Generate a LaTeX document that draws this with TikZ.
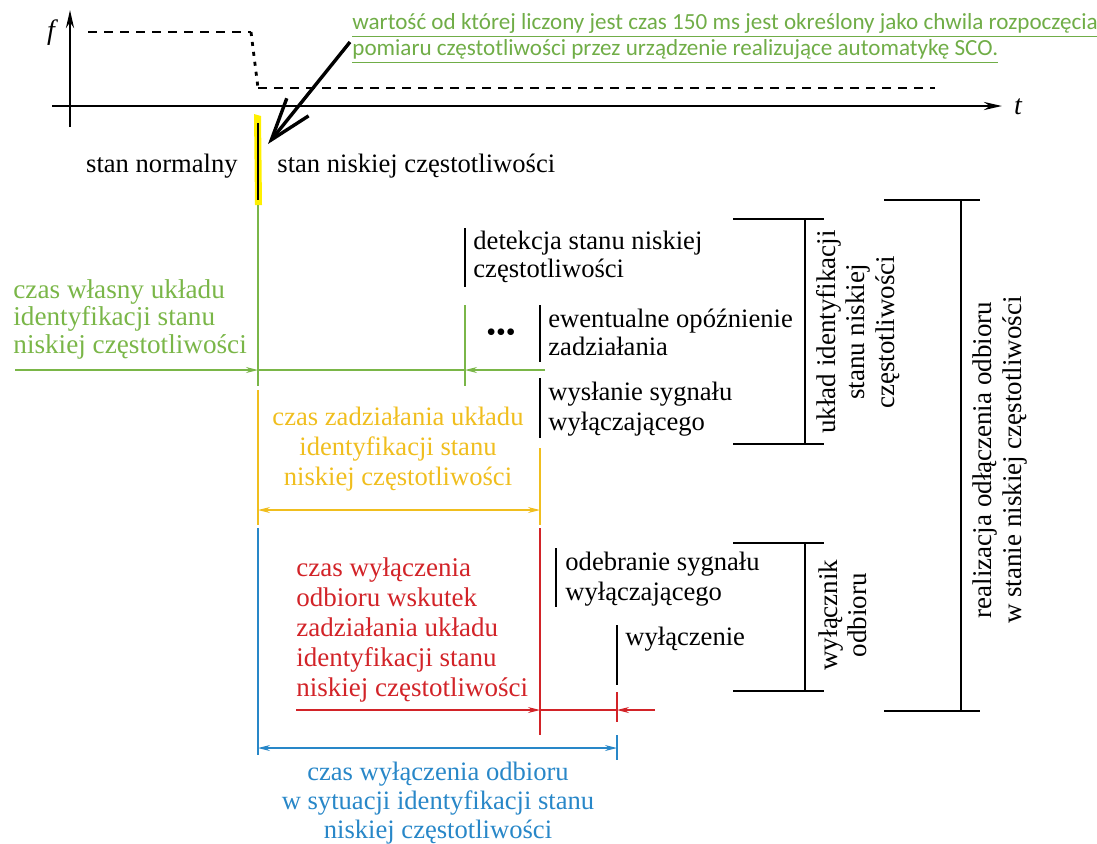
\documentclass[tikz,border=0pt]{standalone}
\usepackage{fontspec}
\setmainfont{Liberation Serif}
\newfontfamily\calibri{Carlito}
\usetikzlibrary{arrows.meta}
\definecolor{topgreen}{RGB}{112,173,71}
\definecolor{mygreen}{RGB}{122,182,72}
\definecolor{myyellow}{RGB}{240,190,30}
\definecolor{myred}{RGB}{210,35,40}
\definecolor{myblue}{RGB}{40,135,200}
\definecolor{hilite}{RGB}{255,240,0}
\tikzset{
  tx/.style={font=\fontsize{13.3}{14}\selectfont, inner sep=0pt, align=left, anchor=north west},
  ctx/.style={font=\fontsize{13.3}{15}\selectfont, inner sep=0pt, align=center, anchor=north},
  ltx/.style={font=\fontsize{13.3}{15}\selectfont, inner sep=0pt, align=left, anchor=north west},
  rtx/.style={font=\fontsize{13.5}{14.6}\selectfont, inner sep=0pt, align=center, rotate=90},
  bar/.style={line width=1.4pt},
  brk/.style={line width=0.7pt},
  dim/.style={line width=0.6pt},
  tip/.style={-{Stealth[length=6pt,width=3pt]}},
  dtip/.style={{Stealth[length=6pt,width=3pt]}-{Stealth[length=6pt,width=3pt]}},
}
\begin{document}
\begin{tikzpicture}[x=0.5pt,y=-0.5pt]
\path[use as bounding box] (0,0) rectangle (1097,843);
% axes
\coordinate (fb) at (70,127); \coordinate (ft) at (70,10);
\coordinate (tl) at (52,106); \coordinate (tr) at (1002,106);
\draw[line width=1.4pt,-{Stealth[length=9pt,width=4pt]}] (fb) -- (ft);
\draw[line width=1.4pt,-{Stealth[length=9pt,width=4pt]}] (tl) -- (tr);
\node[font=\itshape\fontsize{14}{15}\selectfont, inner sep=0pt] (flab) at (51,33) {f};
\node[font=\itshape\fontsize{14}{15}\selectfont, inner sep=0pt] (tlab) at (1018,107) {t};
% frequency curve
\coordinate (c1) at (88,32); \coordinate (c2) at (251,32);
\coordinate (c3) at (258,88); \coordinate (c4) at (935,88);
\draw[line width=1.4pt, dash pattern=on 4.5pt off 3.5pt] (c1) -- (c2);
\draw[line width=1.4pt, dash pattern=on 2pt off 3pt] (c2) -- (c3);
\draw[line width=1.4pt, dash pattern=on 4.5pt off 3.5pt] (c3) -- (c4);
% highlight marker
\fill[hilite] (254,114) -- (261,116) -- (262,205) -- (255,205) -- cycle;
\coordinate (m1) at (258,123); \coordinate (m2) at (258,200);
\draw[line width=0.8pt] (m1) -- (m2);
% green note
\node[font=\calibri\fontsize{11.55}{13}\selectfont, text=topgreen, inner sep=0pt, align=left, anchor=north west] (note) at (352,13)
 {\underline{wartość od której liczony jest czas 150 ms jest określony jako chwila rozpoczęcia}\\
  \underline{pomiaru częstotliwości przez urządzenie realizujące automatykę SCO.}};
\coordinate (ptr) at (268,144);
\draw[line width=1.7pt, -{Straight Barb[length=21pt,width=14pt]}] (350,42) -- (ptr);
% states
\node[tx, anchor=base east] (normal) at (238,172) {stan normalny};
\node[tx, anchor=base west] (niska) at (277,172) {stan niskiej częstotliwości};
% green dimension
\coordinate (g0t) at (258,205); \coordinate (g0b) at (258,386);
\coordinate (g1t) at (465,305); \coordinate (g1b) at (465,386);
\coordinate (gl) at (15,370); \coordinate (gm) at (258,370);
\coordinate (gr) at (465,370); \coordinate (ge) at (545,370);
\draw[mygreen, dim] (g0t) -- (g0b);
\draw[mygreen, dim] (g1t) -- (g1b);
\draw[mygreen, dim, tip] (gl) -- (gm);
\draw[mygreen, dim] (gm) -- (gr);
\draw[mygreen, dim, tip] (ge) -- (gr);
\node[ltx, font=\fontsize{13.6}{13.8}\selectfont, text=mygreen] (gtext) at (13,279) {czas własny układu\\identyfikacji stanu\\niskiej częstotliwości};
% black step labels
\draw[bar] (465,228) -- (465,287);
\node[tx] (det) at (473,231) {detekcja stanu niskiej\\częstotliwości};
\node[inner sep=0pt, font=\fontsize{14}{15}\selectfont] (dots) at (501,335) {•••};
\draw[bar] (540,305) -- (540,362);
\node[tx] (ewe) at (548,309) {ewentualne opóźnienie\\zadziałania};
\draw[bar] (540,378) -- (540,438);
\node[tx, font=\fontsize{13.3}{15}\selectfont] (wys) at (548,382) {wysłanie sygnału\\wyłączającego};
% yellow dimension
\coordinate (y0t) at (258,390); \coordinate (y0b) at (258,525);
\coordinate (y1t) at (540,448); \coordinate (y1b) at (540,525);
\coordinate (yl) at (258,510); \coordinate (yr) at (540,510);
\draw[myyellow, dim] (y0t) -- (y0b);
\draw[myyellow, dim] (y1t) -- (y1b);
\draw[myyellow, dim, dtip] (yl) -- (yr);
\node[ctx, text=myyellow] (ytext) at (398,407) {czas zadziałania układu\\identyfikacji stanu\\niskiej częstotliwości};
% red dimension
\coordinate (r0t) at (540,528); \coordinate (r0b) at (540,735);
\coordinate (r1t) at (617,692); \coordinate (r1b) at (617,722);
\coordinate (rl) at (296,710); \coordinate (rm) at (540,710);
\coordinate (rr) at (617,710); \coordinate (re) at (655,710);
\draw[myred, dim] (r0t) -- (r0b);
\draw[myred, dim] (r1t) -- (r1b);
\draw[myred, dim, tip] (rl) -- (rm);
\draw[myred, dim] (rm) -- (rr);
\draw[myred, dim, tip] (re) -- (rr);
\node[ltx, font=\fontsize{13.5}{15}\selectfont, text=myred] (rtext) at (296,557) {czas wyłączenia\\odbioru wskutek\\zadziałania układu\\identyfikacji stanu\\niskiej częstotliwości};
% receiver labels
\draw[bar] (556,548) -- (556,607);
\node[tx, font=\fontsize{13.3}{15}\selectfont] (ode) at (565,552) {odebranie sygnału\\wyłączającego};
\draw[bar] (617,625) -- (617,685);
\node[tx, anchor=base west] (wyl) at (625,645) {wyłączenie};
% blue dimension
\coordinate (b0t) at (258,528); \coordinate (b0b) at (258,755);
\coordinate (b1t) at (617,735); \coordinate (b1b) at (617,760);
\coordinate (bl) at (258,748); \coordinate (br) at (617,748);
\draw[myblue, dim] (b0t) -- (b0b);
\draw[myblue, dim] (b1t) -- (b1b);
\draw[myblue, dim, dtip] (bl) -- (br);
\node[ctx, font=\fontsize{13.3}{14.5}\selectfont, text=myblue] (btext) at (438,762) {czas wyłączenia odbioru\\w sytuacji identyfikacji stanu\\niskiej częstotliwości};
% brackets
\draw[brk] (733,219) -- (824,219) (805,219) -- (805,444) (733,444) -- (824,444);
\node[rtx] (b1lab) at (858,332) {układ identyfikacji\\stanu niskiej\\częstotliwości};
\draw[brk] (733,543) -- (824,543) (805,543) -- (805,691) (733,691) -- (824,691);
\node[rtx] (b2lab) at (843,615) {wyłącznik\\odbioru};
\draw[brk] (884,200) -- (980,200) (961,200) -- (961,711) (884,711) -- (980,711);
\node[rtx] (b3lab) at (1000,460) {realizacja odłączenia odbioru\\w stanie niskiej częstotliwości};
\end{tikzpicture}
\end{document}
